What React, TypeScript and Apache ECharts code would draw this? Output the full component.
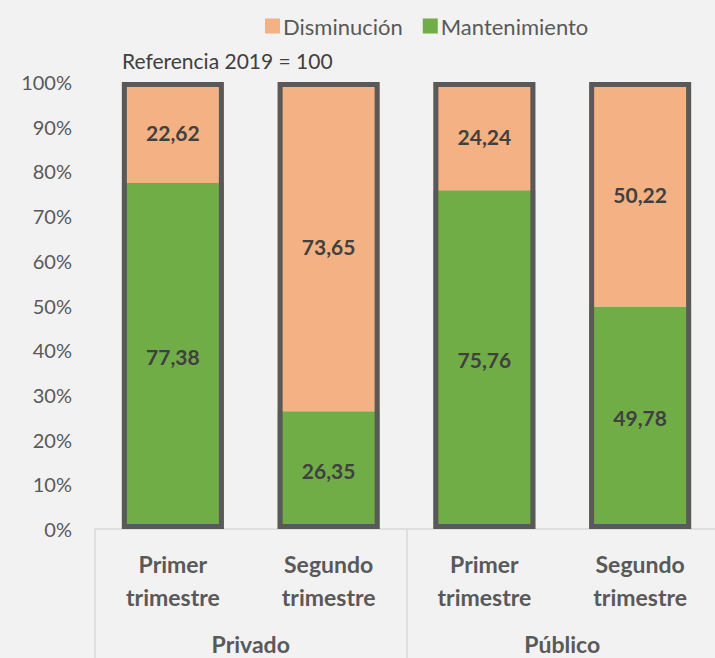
import React, { useEffect, useRef } from "react";
import * as echarts from "echarts";

const categories = ["Primer\ntrimestre", "Segundo\ntrimestre", "Primer\ntrimestre", "Segundo\ntrimestre"];
const groups = ["Privado", "Público"];
const mantenimiento = [77.38, 26.35, 75.76, 49.78];
const disminucion = [22.62, 73.65, 24.24, 50.22];
const totals = [100, 100, 100, 100];

const FONT = "Lato";
const fmt = (v: number) => v.toFixed(2).replace(".", ",");

export default function App() {
  const ref = useRef<HTMLDivElement>(null);
  useEffect(() => {
    if (!ref.current) return;
    const chart = echarts.init(ref.current, null, { renderer: "svg" });
    const dataLabel = {
      show: true,
      position: "inside",
      formatter: (p: any) => fmt(p.value),
      fontSize: 21,
      fontWeight: "bold",
      color: "#404040",
      fontFamily: FONT,
    };
    chart.setOption({
      animation: false,
      backgroundColor: "#f2f2f2",
      textStyle: { fontFamily: FONT },
      legend: {
        data: ["Disminución", "Mantenimiento"],
        left: 260,
        top: 10,
        itemWidth: 15,
        itemHeight: 15,
        itemGap: 20,
        icon: "rect",
        textStyle: { fontSize: 22, color: "#595959", fontFamily: FONT, padding: [0, 0, 0, -2] },
      },
      graphic: [
        {
          type: "text",
          left: 122,
          top: 50,
          style: { text: "Referencia 2019 = 100", fontSize: 21, fill: "#404040", fontFamily: FONT },
        },
      ],
      grid: { left: 95, top: 82, bottom: 129, right: 12 },
      xAxis: [
        {
          type: "category",
          data: categories,
          axisLine: { lineStyle: { color: "#d9d9d9", width: 1.5 } },
          axisTick: { show: false },
          axisLabel: {
            fontSize: 23,
            fontWeight: "bold",
            color: "#595959",
            lineHeight: 33,
            margin: 18,
            fontFamily: FONT,
          },
        },
        {
          type: "category",
          data: groups,
          position: "bottom",
          axisLine: { show: false },
          axisTick: { show: true, length: 131, lineStyle: { color: "#d9d9d9", width: 1.5 } },
          axisLabel: {
            fontSize: 23,
            fontWeight: "bold",
            color: "#595959",
            margin: 103,
            fontFamily: FONT,
          },
        },
      ],
      yAxis: {
        type: "value",
        min: 0,
        max: 100,
        interval: 10,
        splitLine: { show: false },
        axisLine: { show: false },
        axisTick: { show: false },
        axisLabel: { formatter: "{value}%", fontSize: 20, color: "#595959", margin: 23, fontFamily: FONT },
      },
      series: [
        {
          name: "Mantenimiento",
          type: "bar",
          stack: "total",
          data: mantenimiento,
          barWidth: 102,
          itemStyle: { color: "#70ad47" },
          label: dataLabel,
        },
        {
          name: "Disminución",
          type: "bar",
          stack: "total",
          data: disminucion,
          barWidth: 102,
          itemStyle: { color: "#f4b183" },
          label: dataLabel,
        },
        {
          name: "borde",
          type: "bar",
          data: totals,
          barWidth: 102,
          barGap: "-100%",
          silent: true,
          z: 5,
          itemStyle: { color: "rgba(0,0,0,0)", borderColor: "#595959", borderWidth: 5 },
          label: { show: false },
        },
      ],
    });
    return () => chart.dispose();
  }, []);
  return (
    <div style={{ width: 715, height: 658, position: "absolute", left: 0, top: 0, overflow: "hidden" }}>
      <div ref={ref} style={{ width: 730, height: 658 }} />
    </div>
  );
}
